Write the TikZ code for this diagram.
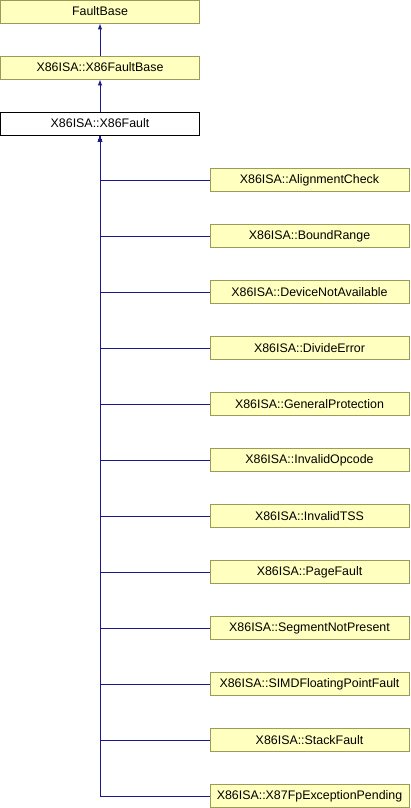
\documentclass[tikz,border=0pt]{standalone}
\usepackage{fontspec}
\setmainfont{Liberation Sans}
\usetikzlibrary{arrows.meta,positioning}
\definecolor{boxfill}{HTML}{FFFFC0}
\definecolor{boxline}{HTML}{9C9C5A}
\definecolor{edgeblue}{HTML}{1A1A8C}
\tikzset{
  cls/.style={draw=boxline,fill=boxfill,line width=0.9pt,minimum width=199pt,
    minimum height=23pt,inner sep=0pt,font=\fontsize{12.4}{14}\selectfont},
  curcls/.style={cls,draw=black,fill=white},
  inh/.style={edgeblue,line width=0.9pt,-{Latex[length=6pt,width=4.5pt]}}
}
\begin{document}
\begin{tikzpicture}[x=1pt,y=-1pt]
\useasboundingbox (0,0) rectangle (410,808);
\node[cls] (faultbase) at (100,11.5) {FaultBase};
\node[cls] (x86faultbase) at (100,67.5) {X86ISA::X86FaultBase};
\node[curcls] (x86fault) at (100,123.5) {X86ISA::X86Fault};
\draw[inh] (x86faultbase) -- (faultbase);
\draw[inh] (x86fault) -- (x86faultbase);
% derived classes
\foreach \nm [count=\i] in {AlignmentCheck,BoundRange,DeviceNotAvailable,DivideError,
  GeneralProtection,InvalidOpcode,InvalidTSS,PageFault,SegmentNotPresent,
  SIMDFloatingPointFault,StackFault,X87FpExceptionPending}{
  \node[cls] (c\i) at (309.5,124+56*\i) {X86ISA::\nm};
  \draw[inh] (c\i.west) -| (x86fault.south);
}
\end{tikzpicture}
\end{document}
